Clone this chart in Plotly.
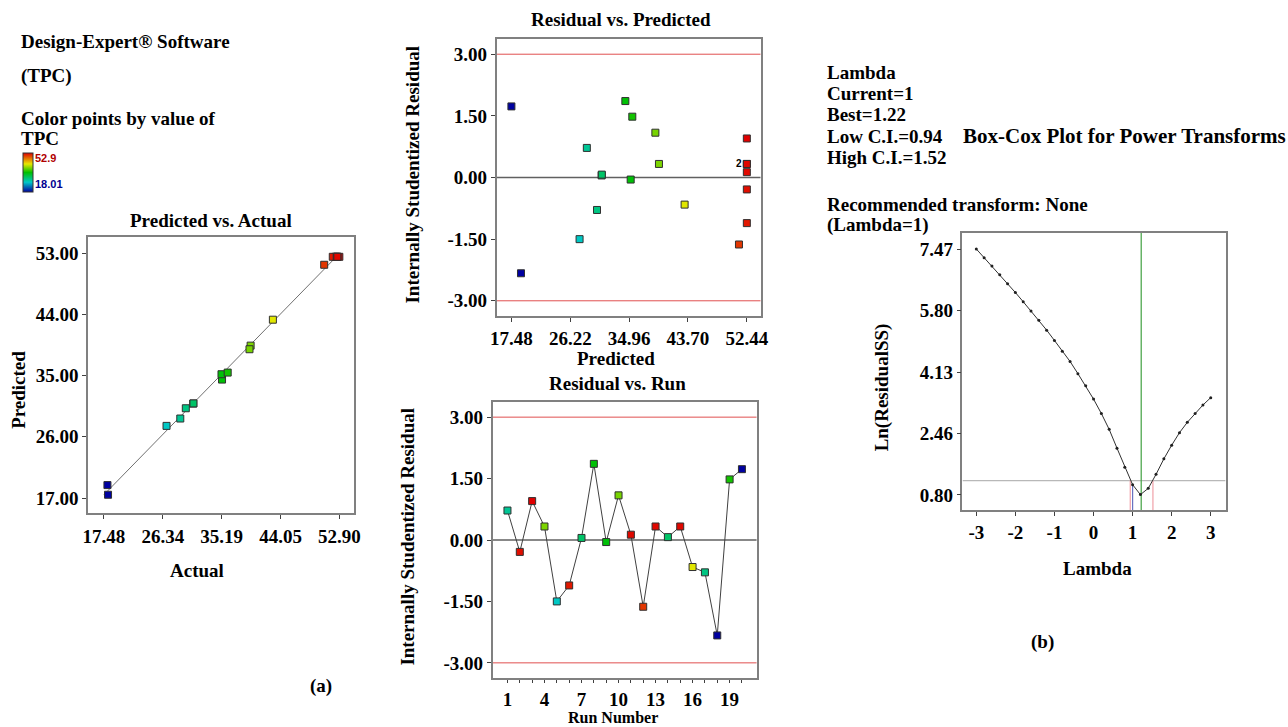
import plotly.graph_objects as go

W, H = 1288, 727

# ---------------- data ----------------
run = [1, 2, 3, 4, 5, 6, 7, 8, 9, 10, 11, 12, 13, 14, 15, 16, 17, 18, 19, 20]
actual = [28.97, 52.30, 52.90, 39.55, 26.90, 51.91, 30.92, 35.25, 35.17, 39.38,
          52.50, 50.62, 52.60, 30.95, 52.60, 42.90, 29.80, 18.01, 36.10, 18.10]
predicted = [28.68, 52.44, 52.44, 39.39, 27.60, 52.44, 30.88, 34.40, 35.19, 38.86,
             52.44, 51.27, 52.44, 30.90, 52.44, 43.20, 30.19, 18.90, 35.43, 17.48]
residual = [0.72, -0.29, 0.95, 0.33, -1.50, -1.11, 0.05, 1.86, -0.05, 1.09,
            0.13, -1.63, 0.33, 0.07, 0.33, -0.66, -0.79, -2.33, 1.48, 1.73]

tpc_min, tpc_max = 18.01, 52.9
limit_lines = [3.0, -3.0]

x1_ticks = [17.48, 26.34, 35.19, 44.05, 52.90]
y1_ticks = [17.00, 26.00, 35.00, 44.00, 53.00]
x2_ticks = [17.48, 26.22, 34.96, 43.70, 52.44]
res_ticks = [-3.00, -1.50, 0.00, 1.50, 3.00]
run_label_ticks = [1, 4, 7, 10, 13, 16, 19]

lam = [-3.0, -2.8, -2.6, -2.4, -2.2, -2.0, -1.8, -1.6, -1.4, -1.2, -1.0, -0.8, -0.6,
       -0.4, -0.2, 0.0, 0.2, 0.4, 0.6, 0.8, 1.0, 1.2, 1.4, 1.6, 1.8, 2.0, 2.2, 2.4,
       2.6, 2.8, 3.0]
ln_ss = [7.47, 7.235, 7.01, 6.77, 6.53, 6.29, 6.04, 5.79, 5.54, 5.27, 4.99, 4.70,
         4.42, 4.09, 3.76, 3.40, 3.01, 2.58, 2.07, 1.55, 1.08, 0.81, 0.98, 1.36,
         1.78, 2.15, 2.49, 2.77, 3.01, 3.24, 3.44]
lam_ticks = [-3, -2, -1, 0, 1, 2, 3]
ln_ticks = [0.80, 2.46, 4.13, 5.80, 7.47]
lam_current, lam_best, lam_low, lam_high = 1.0, 1.22, 0.94, 1.52
ci_level = 1.19

# ---------------- helpers ----------------
def fx(p):
    return p / W

def fy(p):
    return 1 - p / H

SERIF = "Liberation Serif"
FS = 19
colorscale = [[0.0, "#0000a0"], [0.25, "#00c8c8"], [0.5, "#00c000"],
              [0.72, "#e8e800"], [1.0, "#e00000"]]

fig = go.Figure()

marker_common = dict(symbol="square", size=7, color=actual, colorscale=colorscale,
                     cmin=tpc_min, cmax=tpc_max, line=dict(color="#303030", width=1))

# Plot 1: predicted vs actual
fig.add_trace(go.Scatter(x=[min(predicted), max(predicted)], y=[min(predicted), max(predicted)],
                         mode="lines", line=dict(color="#707070", width=1),
                         xaxis="x", yaxis="y", showlegend=False, hoverinfo="skip"))
m1 = dict(marker_common)
m1.update(showscale=True, colorbar=dict(
    x=fx(17), xanchor="left", y=fy(153), yanchor="top",
    len=39, lenmode="pixels", thickness=10, thicknessmode="pixels",
    showticklabels=False, ticks="", outlinewidth=1, outlinecolor="#333",
    xpad=0, ypad=0))
fig.add_trace(go.Scatter(x=actual, y=predicted, mode="markers", marker=m1,
                         xaxis="x", yaxis="y", showlegend=False))

# Plot 2: residual vs predicted
for v in limit_lines:
    fig.add_trace(go.Scatter(x=[15.28, 54.50], y=[v, v], mode="lines",
                             line=dict(color="#e05050", width=1), xaxis="x2", yaxis="y2",
                             showlegend=False, hoverinfo="skip"))
fig.add_trace(go.Scatter(x=[15.28, 54.50], y=[0, 0], mode="lines",
                         line=dict(color="#606060", width=1.3), xaxis="x2", yaxis="y2",
                         showlegend=False, hoverinfo="skip"))
fig.add_trace(go.Scatter(x=predicted, y=residual, mode="markers", marker=marker_common,
                         xaxis="x2", yaxis="y2", showlegend=False))

# Plot 3: residual vs run
for v in limit_lines:
    fig.add_trace(go.Scatter(x=[-0.2, 21.2], y=[v, v], mode="lines",
                             line=dict(color="#e05050", width=1), xaxis="x3", yaxis="y3",
                             showlegend=False, hoverinfo="skip"))
fig.add_trace(go.Scatter(x=[-0.2, 21.2], y=[0, 0], mode="lines",
                         line=dict(color="#606060", width=1.3), xaxis="x3", yaxis="y3",
                         showlegend=False, hoverinfo="skip"))
fig.add_trace(go.Scatter(x=run, y=residual, mode="lines+markers",
                         line=dict(color="#404040", width=1), marker=marker_common,
                         xaxis="x3", yaxis="y3", showlegend=False))

# Plot 4: Box-Cox
fig.add_trace(go.Scatter(x=[-3.354, 3.38], y=[ci_level, ci_level], mode="lines",
                         line=dict(color="#b8b8b8", width=1.2), xaxis="x4", yaxis="y4",
                         showlegend=False, hoverinfo="skip"))
for lv in [lam_low, lam_high]:
    fig.add_trace(go.Scatter(x=[lv, lv], y=[0.393, ci_level], mode="lines",
                             line=dict(color="#f0a0a8", width=1.2), xaxis="x4", yaxis="y4",
                             showlegend=False, hoverinfo="skip"))
fig.add_trace(go.Scatter(x=[lam_current, lam_current], y=[0.393, 1.08], mode="lines",
                         line=dict(color="#6870c0", width=1.2), xaxis="x4", yaxis="y4",
                         showlegend=False, hoverinfo="skip"))
fig.add_trace(go.Scatter(x=[lam_best, lam_best], y=[0.393, 7.904], mode="lines",
                         line=dict(color="#40a040", width=1.2), xaxis="x4", yaxis="y4",
                         showlegend=False, hoverinfo="skip"))
fig.add_trace(go.Scatter(x=lam, y=ln_ss, mode="lines+markers",
                         line=dict(color="#303030", width=1),
                         marker=dict(color="#202020", size=3),
                         xaxis="x4", yaxis="y4", showlegend=False))

tickfont = dict(family=SERIF, size=FS, color="black", weight="bold")
axis_common = dict(showline=True, mirror=True, linecolor="#808080", linewidth=1.5,
                   ticks="outside", ticklen=4, tickcolor="#404040", showgrid=False,
                   zeroline=False, tickfont=tickfont)

def fmt2(vals):
    return ["%.2f" % v for v in vals]

layout = dict(
    width=W, height=H, margin=dict(l=0, r=0, t=0, b=0),
    paper_bgcolor="white", plot_bgcolor="white", showlegend=False,
    font=dict(family=SERIF, size=FS, color="black"),
    xaxis=dict(axis_common, domain=[fx(83), fx(352)], range=[15.10, 55.13], anchor="y",
               tickvals=x1_ticks, ticktext=fmt2(x1_ticks), ticklabelstandoff=1),
    yaxis=dict(axis_common, domain=[fy(513), fy(237)], range=[14.80, 55.35], anchor="x",
               tickvals=y1_ticks, ticktext=fmt2(y1_ticks)),
    xaxis2=dict(axis_common, domain=[fx(496), fx(763)], range=[15.28, 54.50], anchor="y2",
                tickvals=x2_ticks, ticktext=fmt2(x2_ticks), ticklabelstandoff=0),
    yaxis2=dict(axis_common, domain=[fy(316), fy(39)], range=[-3.37, 3.37], anchor="x2",
                tickvals=res_ticks, ticktext=fmt2(res_ticks)),
    xaxis3=dict(axis_common, domain=[fx(492), fx(759)], range=[-0.2, 21.2], anchor="y3",
                tickvals=run, ticktext=[str(r) if r in run_label_ticks else "" for r in run],
                ticklabelstandoff=0, ticklen=3),
    yaxis3=dict(axis_common, domain=[fy(678), fy(402)], range=[-3.37, 3.37], anchor="x3",
                tickvals=res_ticks, ticktext=fmt2(res_ticks)),
    xaxis4=dict(axis_common, domain=[fx(967), fx(1233)], range=[-3.354, 3.38], anchor="y4",
                tickvals=lam_ticks, ticktext=[str(v) for v in lam_ticks], ticklabelstandoff=0),
    yaxis4=dict(axis_common, domain=[fy(510), fy(233)], range=[0.393, 7.904], anchor="x4",
                tickvals=ln_ticks, ticktext=fmt2(ln_ticks)),
)
fig.update_layout(**layout)

def txt(text, x, y, xanchor="left", size=FS, angle=0, color="black", family=SERIF):
    fig.add_annotation(text=text, x=fx(x), y=fy(y), xref="paper", yref="paper",
                       xanchor=xanchor, yanchor="middle", showarrow=False,
                       textangle=angle, font=dict(family=family, size=size, color=color),
                       borderpad=0)

# left info block
txt("<b>Design-Expert® Software</b>", 14, 42)
txt("<b>(TPC)</b>", 14, 76)
txt("<b>Color points by value of</b>", 14, 118)
txt("<b>TPC</b>", 14, 139)
txt("<b>%s</b>" % tpc_max, 28, 158, size=11, color="#b00000", family="Liberation Sans")
txt("<b>%s</b>" % tpc_min, 28, 184, size=11, color="#000090", family="Liberation Sans")

# plot 1 texts
txt("<b>Predicted vs. Actual</b>", 207, 221, xanchor="center")
txt("<b>Actual</b>", 193, 570, xanchor="center")
txt("<b>Predicted</b>", 12, 390, xanchor="center", angle=-90)
txt("<b>(a)</b>", 318, 686, xanchor="center")

# plot 2 texts
txt("<b>Residual vs. Predicted</b>", 622, 20, xanchor="center")
txt("<b>Internally Studentized Residual</b>", 410, 175, xanchor="center", angle=-90)
txt("<b>Predicted</b>", 617, 358, xanchor="center")
fig.add_annotation(text="<b>2</b>", x=52.44, y=0.33, xref="x2", yref="y2", xshift=-8,
                   showarrow=False, font=dict(family="Liberation Sans", size=10, color="black"))

# plot 3 texts
txt("<b>Residual vs. Run</b>", 618, 383, xanchor="center")
txt("<b>Internally Studentized Residual</b>", 405, 537, xanchor="center", angle=-90)
txt("<b>Run Number</b>", 614, 717.5, xanchor="center", size=16)

# Box-Cox texts
lam_lines = ["Lambda", "Current=%g" % lam_current, "Best=%.2f" % lam_best,
             "Low C.I.=%.2f" % lam_low, "High C.I.=%.2f" % lam_high]
for s, yy in zip(lam_lines, [73, 94, 114, 136, 157]):
    txt("<b>%s</b>" % s, 829, yy)
txt("<b>Recommended transform: None</b>", 829, 204)
txt("<b>(Lambda=1)</b>", 829, 225)
txt("<b>Box-Cox Plot for Power Transforms</b>", 967, 136, size=21)
txt("<b>Ln(ResidualSS)</b>", 886, 387, xanchor="center", angle=-90)
txt("<b>Lambda</b>", 1103, 568, xanchor="center")
txt("<b>(b)</b>", 1048, 642, xanchor="center")

fig.write_html("out.html", config={"displayModeBar": False},
               post_script="document.body.style.margin='0';")
